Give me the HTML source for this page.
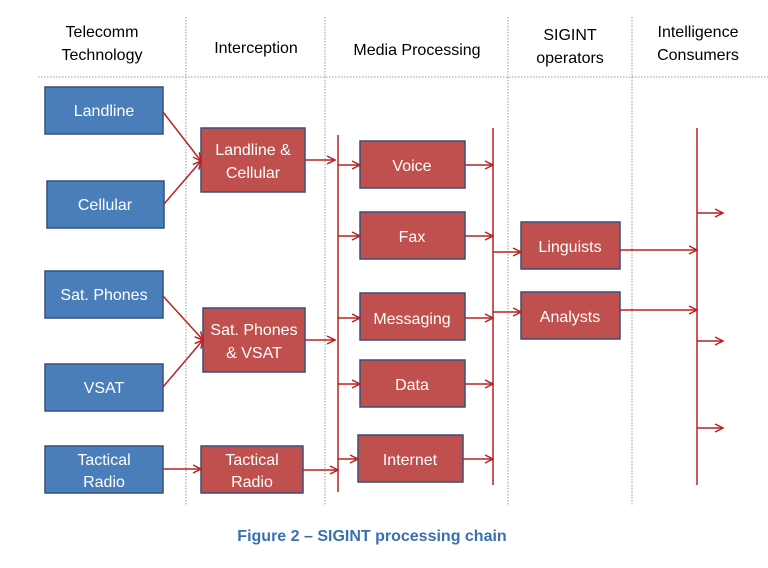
<!DOCTYPE html>
<html><head><meta charset="utf-8"><style>
body{margin:0;background:#fff}
svg text{font-family:"Liberation Sans",sans-serif}
</style></head><body>
<svg width="768" height="563" viewBox="0 0 768 563" xmlns="http://www.w3.org/2000/svg">
<defs><marker id="a" markerWidth="10" markerHeight="10" refX="9" refY="5" orient="auto" markerUnits="userSpaceOnUse"><path d="M1,1 L9,5 L1,9" fill="none" stroke="#b22" stroke-width="1.5"/></marker></defs>
<g stroke="#999" stroke-width="1" stroke-dasharray="1.5,1.5">
<line x1="38" y1="77" x2="768" y2="77"/>
<line x1="186" y1="17" x2="186" y2="505"/>
<line x1="325" y1="17" x2="325" y2="505"/>
<line x1="508" y1="17" x2="508" y2="505"/>
<line x1="632" y1="17" x2="632" y2="505"/>
</g>
<g font-size="16" fill="#000" text-anchor="middle">
<text x="102" y="37">Telecomm</text><text x="102" y="60">Technology</text>
<text x="256" y="53">Interception</text>
<text x="417" y="55">Media Processing</text>
<text x="570" y="40">SIGINT</text><text x="570" y="63">operators</text>
<text x="698" y="37">Intelligence</text><text x="698" y="60">Consumers</text>
</g>
<g stroke="#35507a" stroke-width="1.5">
<g fill="#4a7ebb">
<rect x="45" y="87" width="118" height="47"/><rect x="47" y="181" width="117" height="47"/>
<rect x="45" y="271" width="118" height="47"/><rect x="45" y="364" width="118" height="47"/>
<rect x="45" y="446" width="118" height="47"/>
</g>
<g fill="#c0504d">
<rect x="201" y="128" width="104" height="64"/><rect x="203" y="308" width="102" height="64"/>
<rect x="201" y="446" width="102" height="47"/>
<rect x="360" y="141" width="105" height="47"/><rect x="360" y="212" width="105" height="47"/>
<rect x="360" y="293" width="105" height="47"/><rect x="360" y="360" width="105" height="47"/>
<rect x="358" y="435" width="105" height="47"/>
<rect x="521" y="222" width="99" height="47"/><rect x="521" y="292" width="99" height="47"/>
</g>
</g>
<g font-size="16" fill="#fff" text-anchor="middle">
<text x="104" y="116">Landline</text><text x="105" y="210">Cellular</text>
<text x="104" y="300">Sat. Phones</text><text x="104" y="393">VSAT</text>
<text x="104" y="465">Tactical</text><text x="104" y="487">Radio</text>
<text x="253" y="155">Landline &amp;</text><text x="253" y="178">Cellular</text>
<text x="254" y="335">Sat. Phones</text><text x="254" y="358">&amp; VSAT</text>
<text x="252" y="465">Tactical</text><text x="252" y="487">Radio</text>
<text x="412" y="171">Voice</text><text x="412" y="242">Fax</text>
<text x="412" y="324">Messaging</text><text x="412" y="390">Data</text>
<text x="410" y="465">Internet</text>
<text x="570" y="252">Linguists</text><text x="570" y="322">Analysts</text>
</g>
<g stroke="#b22" stroke-width="1.5" fill="none">
<line x1="338" y1="135" x2="338" y2="492"/>
<line x1="493" y1="128" x2="493" y2="485"/>
<line x1="697" y1="128" x2="697" y2="485"/>
</g>
<g stroke="#b22" stroke-width="1.5" fill="none" marker-end="url(#a)">
<line x1="163" y1="112" x2="201" y2="161"/><line x1="164" y1="204" x2="201" y2="161"/>
<line x1="163" y1="296" x2="203" y2="340"/><line x1="163" y1="387" x2="203" y2="340"/>
<line x1="163" y1="469" x2="201" y2="469"/>
<line x1="305" y1="160" x2="335" y2="160"/>
<line x1="305" y1="340" x2="335" y2="340"/>
<line x1="303" y1="470" x2="338" y2="470"/>
<line x1="338" y1="165" x2="360" y2="165"/><line x1="338" y1="236" x2="360" y2="236"/>
<line x1="338" y1="318" x2="360" y2="318"/><line x1="338" y1="384" x2="360" y2="384"/>
<line x1="338" y1="459" x2="358" y2="459"/>
<line x1="465" y1="165" x2="493" y2="165"/><line x1="465" y1="236" x2="493" y2="236"/>
<line x1="465" y1="318" x2="493" y2="318"/><line x1="465" y1="384" x2="493" y2="384"/>
<line x1="463" y1="459" x2="493" y2="459"/>
<line x1="493" y1="252" x2="521" y2="252"/><line x1="493" y1="312" x2="521" y2="312"/>
<line x1="620" y1="250" x2="697" y2="250"/><line x1="620" y1="310" x2="697" y2="310"/>
<line x1="697" y1="213" x2="723" y2="213"/><line x1="697" y1="341" x2="723" y2="341"/>
<line x1="697" y1="428" x2="723" y2="428"/>
</g>
<text x="372" y="541" font-size="16" font-weight="bold" fill="#3a6fb0" text-anchor="middle">Figure 2 – SIGINT processing chain</text>
</svg>
</body></html>
